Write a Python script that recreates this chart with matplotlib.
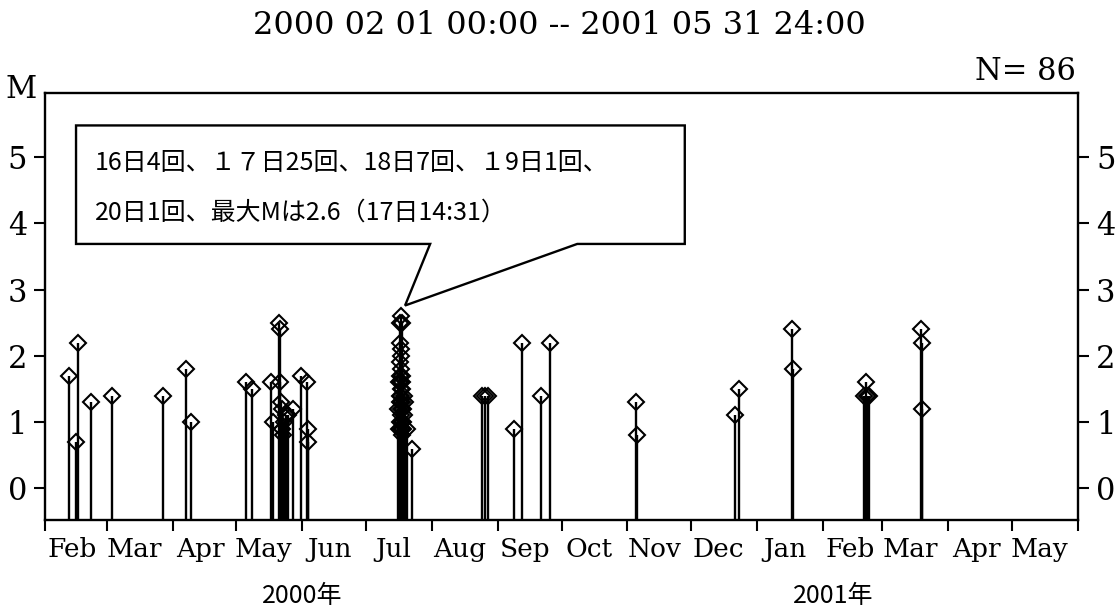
import matplotlib
matplotlib.use('Agg')
import matplotlib.pyplot as plt
import matplotlib.dates as mdates
from matplotlib.patches import Polygon
from datetime import datetime

# ---- datos (fecha, magnitud M) ----
fechas = [
    "2000-02-12 12:00", "2000-02-15 12:00", "2000-02-16 12:00", "2000-02-22 12:00",
    "2000-03-03 12:00", "2000-03-27 12:00", "2000-04-07 12:00", "2000-04-09 12:00",
    "2000-05-05 12:00", "2000-05-08 12:00", "2000-05-17 12:00", "2000-05-18 12:00",
    "2000-05-21 06:00", "2000-05-21 12:00", "2000-05-21 18:00", "2000-05-22 03:00",
    "2000-05-22 09:00", "2000-05-22 15:00", "2000-05-22 21:00", "2000-05-23 12:00",
    "2000-05-24 12:00", "2000-05-25 12:00", "2000-05-27 12:00", "2000-05-31 12:00",
    "2000-06-03 06:00", "2000-06-03 12:00", "2000-06-03 18:00",
    # enjambre de julio
    "2000-07-16 06:00", "2000-07-16 10:00", "2000-07-16 15:00", "2000-07-16 20:00",
    "2000-07-17 00:40", "2000-07-17 01:15", "2000-07-17 02:05", "2000-07-17 03:30",
    "2000-07-17 04:10", "2000-07-17 05:20", "2000-07-17 06:00", "2000-07-17 07:45",
    "2000-07-17 08:30", "2000-07-17 09:10", "2000-07-17 10:05", "2000-07-17 11:25",
    "2000-07-17 12:00", "2000-07-17 13:10", "2000-07-17 14:31", "2000-07-17 15:20",
    "2000-07-17 16:05", "2000-07-17 17:00", "2000-07-17 17:50", "2000-07-17 18:40",
    "2000-07-17 19:30", "2000-07-17 20:15", "2000-07-17 21:10", "2000-07-17 22:30",
    "2000-07-17 23:20",
    "2000-07-18 01:00", "2000-07-18 04:30", "2000-07-18 08:00", "2000-07-18 11:00",
    "2000-07-18 14:00", "2000-07-18 18:00", "2000-07-18 22:00",
    "2000-07-19 12:00", "2000-07-20 12:00",
    "2000-07-22 12:00",
    "2000-08-24 12:00", "2000-08-26 00:00", "2000-08-27 12:00",
    "2000-09-08 12:00", "2000-09-12 12:00", "2000-09-21 12:00", "2000-09-25 12:00",
    "2000-11-05 06:00", "2000-11-05 18:00", "2000-12-21 12:00", "2000-12-23 12:00",
    "2001-01-17 06:00", "2001-01-17 18:00",
    "2001-02-20 12:00", "2001-02-21 06:00", "2001-02-21 18:00", "2001-02-22 12:00",
    "2001-03-19 04:00", "2001-03-19 12:00", "2001-03-19 20:00",
]
mags = [
    1.7, 0.7, 2.2, 1.3,
    1.4, 1.4, 1.8, 1.0,
    1.6, 1.5, 1.6, 1.0,
    2.5, 2.4, 1.6, 1.3,
    1.2, 0.9, 0.8, 1.0,
    1.1, 1.1, 1.2, 1.7,
    1.6, 0.9, 0.7,
    1.2, 1.6, 0.9, 1.4,
    1.6, 2.2, 1.3, 2.5,
    1.7, 1.0, 1.9, 1.5,
    1.2, 2.1, 0.9, 1.4,
    1.6, 1.1, 2.6, 1.8,
    1.3, 2.0, 0.8, 1.5,
    1.2, 1.7, 1.0, 2.5,
    0.9,
    1.6, 1.3, 1.2, 1.0,
    0.9, 1.4, 1.1,
    1.3, 0.9,
    0.6,
    1.4, 1.4, 1.4,
    0.9, 2.2, 1.4, 2.2,
    1.3, 0.8, 1.1, 1.5,
    2.4, 1.8,
    1.4, 1.6, 1.4, 1.4,
    2.4, 2.2, 1.2,
]
fechas = [datetime.strptime(s, "%Y-%m-%d %H:%M") for s in fechas]

titulo = "2000 02 01 00:00 -- 2001 05 31 24:00"
texto_N = "N= 86"
linea1 = "16日4回、１７日25回、18日7回、１9日1回、"
linea2 = "20日1回、最大Mは2.6（17日14:31）"
anios = ["2000年", "2001年"]
pos_anios = [datetime(2000, 6, 1), datetime(2001, 2, 6)]

inicio = datetime(2000, 2, 1)
fin = datetime(2001, 6, 1)
ymin, ymax = -0.48, 5.97

serif = ['DejaVu Serif']
cjk = ['Noto Sans CJK JP', 'DejaVu Sans']

fig = plt.figure(figsize=(11.2, 6.15), dpi=100)
ax = fig.add_axes([45/1120, 1-520/615, (1078-45)/1120, (520-93)/615])

# tallos y rombos
ax.vlines(fechas, ymin, mags, color='black', lw=1.7)
ax.plot(fechas, mags, 'D', ms=7.8, mfc='none', mec='black', mew=1.5)

ax.set_xlim(inicio, fin)
ax.set_ylim(ymin, ymax)

# eje x: marcas al inicio de mes, etiquetas a mitad
ax.xaxis.set_major_locator(mdates.MonthLocator())
ax.xaxis.set_major_formatter(plt.NullFormatter())
ax.xaxis.set_minor_locator(mdates.MonthLocator(bymonthday=14))
ax.xaxis.set_minor_formatter(mdates.DateFormatter('%b'))
ax.tick_params(axis='x', which='major', direction='out', length=8, width=1.5)
ax.tick_params(axis='x', which='minor', length=0, pad=12, labelsize=19)

ax.set_yticks(range(0, 6))
ax.tick_params(axis='y', direction='out', length=8, width=1.5, labelsize=22,
               left=True, right=True, labelleft=True, labelright=True, pad=5)
for lab in ax.get_xticklabels(minor=True) + ax.get_yticklabels():
    lab.set_fontfamily(serif)
for t in ax.yaxis.get_major_ticks():
    t.label2.set_fontfamily(serif)

for s in ax.spines.values():
    s.set_linewidth(1.7)

# globo de texto (coordenadas en dias desde el inicio y M)
x0 = mdates.date2num(inicio)
globo = [
    (x0 + 14.6, 5.48), (x0 + 301.0, 5.48), (x0 + 301.0, 3.69),
    (x0 + 250.4, 3.69), (x0 + 169.4, 2.76), (x0 + 181.2, 3.69),
    (x0 + 14.6, 3.69),
]
ax.add_patch(Polygon(globo, closed=True, fc='white', ec='black', lw=1.7, zorder=5))
ax.text(x0 + 23.5, 4.92, linea1, family=cjk, fontsize=18, va='center', ha='left', zorder=6)
ax.text(x0 + 23.5, 4.17, linea2, family=cjk, fontsize=18, va='center', ha='left', zorder=6)

# textos de figura
fig.text(559/1120, 1-25/615, titulo, ha='center', va='center', fontsize=23, family=serif)
fig.text(1076/1120, 1-71/615, texto_N, ha='right', va='center', fontsize=22, family=serif)
fig.text(21/1120, 1-90/615, "M", ha='center', va='center', fontsize=22, family=serif)

# años
tr = ax.get_xaxis_transform()
for anio, xpos in zip(anios, pos_anios):
    ax.text(xpos, -0.178, anio, transform=tr, ha='center', va='center',
            family=cjk, fontsize=18)

fig.savefig('out.png', dpi=100)
